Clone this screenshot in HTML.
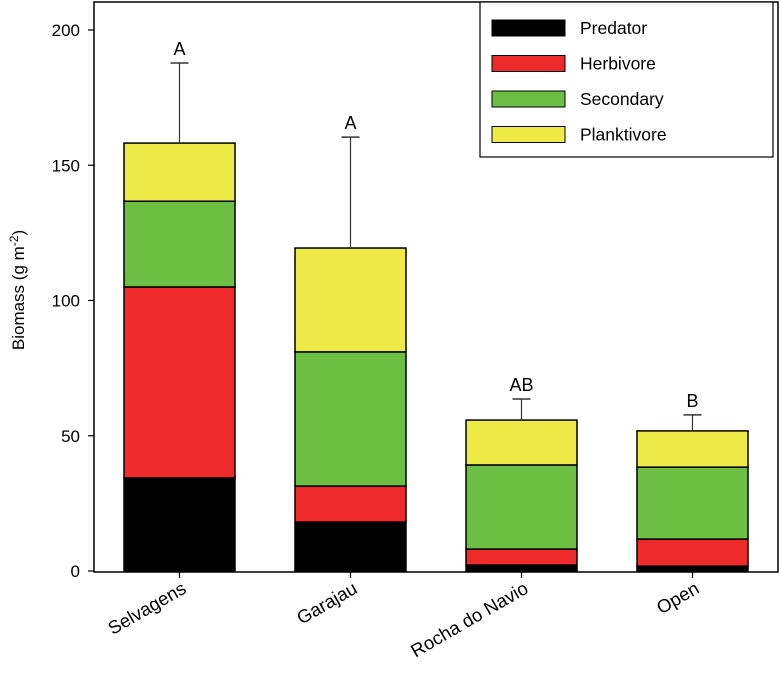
<!DOCTYPE html>
<html><head><meta charset="utf-8"><style>
body{margin:0;background:#fff}
svg{font-family:"Liberation Sans",Arial,sans-serif}
</style></head><body>
<svg id="c" width="781" height="669"></svg>
<script>
const categories=["Selvagens","Garajau","Rocha do Navio","Open"];
const predator=[34.4,18.1,2.2,1.8];
const herbivore=[70.6,13.3,5.9,10.0];
const secondary=[31.7,49.6,31.1,26.6];
const planktivore=[21.5,38.4,16.6,13.4];
const errorTop=[187.8,160.4,63.6,57.7];
const sigLetters=["A","A","AB","B"];
const yTicks=[0,50,100,150,200];
const seriesNames=["Predator","Herbivore","Secondary","Planktivore"];
const colors=["#000000","#ee2a2a","#6dbf44","#eeea48"];
const NS="http://www.w3.org/2000/svg";
const svg=document.getElementById('c');
const L=94,R=778,T=2,B=572;
const y=v=>571-v*2.705;
const band=(R-L)/categories.length;
const xc=i=>L+band*(i+0.5);
function mk(t,a,p){const e=document.createElementNS(NS,t);for(const k in a)e.setAttribute(k,a[k]);(p||svg).appendChild(e);return e;}
const frame=mk('rect',{x:L,y:T,width:R-L,height:B-T,fill:'none',stroke:'#000','stroke-width':1.5});


yTicks.forEach(v=>{
 const t=mk('line',{x1:L-6,x2:L,y1:y(v),y2:y(v),stroke:'#000','stroke-width':1.2});
 
 
 const l=mk('text',{x:L-14,y:y(v)+6,'text-anchor':'end','font-size':17});
 l.textContent=v;
 
 
});
const series=[predator,herbivore,secondary,planktivore];
const bw=111;
categories.forEach((c,i)=>{
 let base=0;
 series.forEach((s,k)=>{
  const r=mk('rect',{x:xc(i)-bw/2,y:y(base+s[i]),width:bw,height:y(base)-y(base+s[i]),fill:colors[k],stroke:'#000','stroke-width':1.5});
  
  
  base+=s[i];
 });
 const e=mk('line',{x1:xc(i),x2:xc(i),y1:y(base),y2:y(errorTop[i]),stroke:'#333','stroke-width':1.2});
 
 
 const cap=mk('line',{x1:xc(i)-9,x2:xc(i)+9,y1:y(errorTop[i]),y2:y(errorTop[i]),stroke:'#333','stroke-width':1.5});
 
 
 const s=mk('text',{x:xc(i),y:y(errorTop[i])-8,'text-anchor':'middle','font-size':18});
 s.textContent=sigLetters[i];
 
 
 const t=mk('line',{x1:xc(i),x2:xc(i),y1:B,y2:B+6,stroke:'#000','stroke-width':1.2});
 
 
 const l=mk('text',{x:xc(i)+8,y:B+20,'text-anchor':'end','font-size':18.5,transform:`rotate(-30 ${xc(i)+8} ${B+20})`});
 l.textContent=c;
 
 
});
const yt=mk('text',{x:24,y:290,'text-anchor':'middle','font-size':17,transform:'rotate(-90 24 290)'});
yt.innerHTML='Biomass (g m<tspan dy="-6" font-size="12">-2</tspan><tspan dy="6">)</tspan>';


const lg=mk('g',{});


mk('rect',{x:480,y:2,width:293,height:155,fill:'#fff',stroke:'#000','stroke-width':1.2},lg);
seriesNames.forEach((n,k)=>{
 const cy=28+k*35.5;
 const sw=mk('rect',{x:492,y:cy-8,width:73,height:16,fill:colors[k],stroke:'#000','stroke-width':1},lg);
 
 
 const tx=mk('text',{x:580,y:cy+6,'font-size':17.5},lg);
 tx.textContent=n;
 
 
});
</script>
</body></html>
